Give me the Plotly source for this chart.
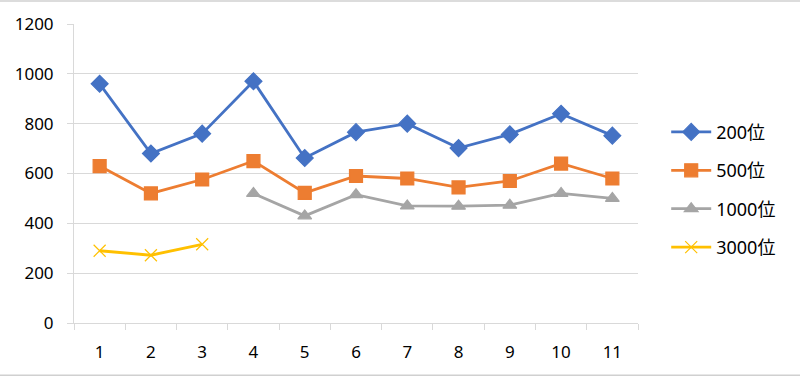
import plotly.graph_objects as go

categories = ["1", "2", "3", "4", "5", "6", "7", "8", "9", "10", "11"]
s200 = [960, 680, 760, 970, 662, 766, 800, 702, 757, 840, 752]
s500 = [630, 520, 576, 650, 522, 590, 580, 544, 570, 640, 580]
s1000 = [None, None, None, 520, 430, 515, 470, 469, 473, 520, 500]
s3000 = [290, 272, 316, None, None, None, None, None, None, None, None]
names = ["200位", "500位", "1000位", "3000位"]
yticks = [0, 200, 400, 600, 800, 1000, 1200]

series = [s200, s500, s1000, s3000]
colors = ["#4472C4", "#ED7D31", "#A5A5A5", "#FFC000"]
symbols = ["diamond", "square", "triangle-up", "x-thin-open"]
msizes = [13, 13, 12, 12]

fig = go.Figure()
for i, (vals, nm) in enumerate(zip(series, names)):
    fig.add_trace(go.Scatter(
        x=categories, y=vals, name=nm, mode="lines+markers",
        line=dict(color=colors[i], width=2.8),
        marker=dict(symbol=symbols[i], size=msizes[i], color=colors[i],
                    line=dict(color=colors[i], width=1.2)),
        legendgroup=nm,
        connectgaps=False,
    ))

font = dict(family="Noto Sans, Noto Sans CJK JP, sans-serif", size=17, color="#000000")
lfont = dict(family="Noto Sans, Noto Sans CJK JP, sans-serif", size=18, color="#000000")

fig.update_layout(
    width=800, height=377,
    margin=dict(l=74, r=162, t=24, b=54),
    paper_bgcolor="white", plot_bgcolor="white",
    font=font,
    showlegend=True,
    legend=dict(x=1.05, y=0.70, xanchor="left", yanchor="top",
                font=lfont, tracegroupgap=12, bgcolor="rgba(0,0,0,0)",
                itemwidth=40),
    xaxis=dict(type="category", categoryorder="array", categoryarray=categories,
               range=[-0.5, len(categories) - 0.5],
               showgrid=False, showline=True, linecolor="#D9D9D9", linewidth=1,
               ticks="outside", tickson="boundaries", ticklen=6, tickcolor="#D9D9D9",
               ticklabelstandoff=14, tickfont=font, fixedrange=True),
    yaxis=dict(range=[0, 1200], tickvals=yticks, ticktext=[str(v) for v in yticks],
               showgrid=True, gridcolor="#D9D9D9", gridwidth=1,
               showline=True, linecolor="#D9D9D9", linewidth=1,
               ticks="outside", ticklen=6, tickcolor="#D9D9D9",
               ticklabelstandoff=10, tickfont=font, zeroline=False, fixedrange=True),
    shapes=[
        dict(type="line", xref="paper", yref="paper", x0=-0.2, x1=1.4,
             y0=1 + 23.0 / 299.3, y1=1 + 23.0 / 299.3, line=dict(color="#D0D0D0", width=1.5)),
        dict(type="line", xref="paper", yref="paper", x0=-0.2, x1=1.4,
             y0=-52.2 / 299.3, y1=-52.2 / 299.3, line=dict(color="#D0D0D0", width=1.5)),
    ],
)

fig.write_html("out.html", config={"displayModeBar": False},
               post_script="document.body.style.margin='0';document.body.style.padding='0';")
